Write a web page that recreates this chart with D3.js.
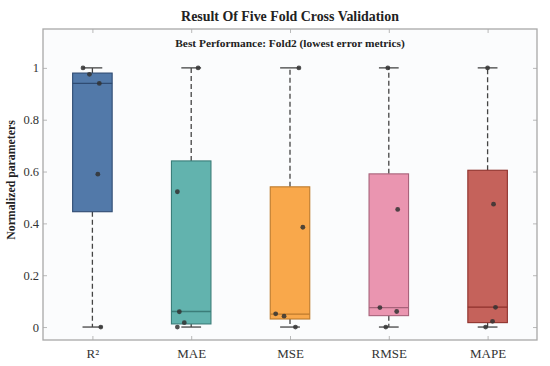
<!DOCTYPE html>
<html>
<head>
<meta charset="utf-8">
<script src="https://cdn.jsdelivr.net/npm/d3@7"></script>
<style>
  body { margin: 0; background: #fff; }
  svg text { font-family: "Book Antiqua", Palatino, "Liberation Serif", "DejaVu Serif", serif; }
</style>
</head>
<body>
<svg id="chart" width="550" height="366"></svg>
<script>
// metrics on the x axis
const metrics = ['R²', 'MAE', 'MSE', 'RMSE', 'MAPE'];
// box statistics
const q1 = [0.445, 0.012, 0.031, 0.044, 0.017];
const median = [0.94, 0.06, 0.05, 0.075, 0.077];
const q3 = [0.98, 0.641, 0.541, 0.591, 0.605];
const whiskLo = [0, 0, 0, 0, 0];
const whiskHi = [1, 1, 1, 1, 1];
// fold values (five per metric) and their horizontal jitter
const foldValues = [
    [1.0, 0.975, 0.94, 0.59, 0.0],
    [1.0, 0.522, 0.059, 0.017, 0.0],
    [1.0, 0.385, 0.051, 0.042, 0.0],
    [1.0, 0.454, 0.075, 0.06, 0.0],
    [1.0, 0.474, 0.076, 0.022, 0.0]
];
const jitter = [
    [-0.095, -0.03, 0.07, 0.055, 0.085],
    [0.07, -0.14, -0.12, -0.07, -0.14],
    [0.09, 0.13, -0.145, -0.06, 0.055],
    [-0.01, 0.09, -0.09, 0.08, -0.03],
    [0.0, 0.06, 0.08, 0.05, -0.02]
];
const yTicks = [0, 0.2, 0.4, 0.6, 0.8, 1];
const fills = ['#5279a9', '#62b3ae', '#f9a84b', '#ea95b0', '#c5625b'];
const edges = ['#2f4b72', '#3b7d79', '#bd7a2c', '#a8627a', '#8e302b'];

const svg = d3.select('#chart');
const margin = { left: 43, right: 13, top: 29, bottom: 26 };
const W = 550, H = 366;

const x = d3.scaleLinear()
    .domain([0.5, 5.5])
    .range([margin.left, W - margin.right]);
const y = d3.scaleLinear()
    .domain([-0.05, 1.15])
    .range([H - margin.bottom, margin.top]);

// plot background
svg.append('rect')
    .attr('x', x(0.5)).attr('y', y(1.15))
    .attr('width', x(5.5) - x(0.5))
    .attr('height', y(-0.05) - y(1.15))
    .attr('fill', '#fbfcfd');

const boxW = 0.4;
const capW = 0.2;

metrics.forEach(function (m, i) {
    const cx = x(i + 1);
    const g = svg.append('g');

    // whiskers (dashed)
    g.append('line')
        .attr('x1', cx).attr('x2', cx)
        .attr('y1', y(q3[i])).attr('y2', y(whiskHi[i]))
        .attr('stroke', '#444').attr('stroke-width', 1.3)
        .attr('stroke-dasharray', '5,3');
    g.append('line')
        .attr('x1', cx).attr('x2', cx)
        .attr('y1', y(q1[i])).attr('y2', y(whiskLo[i]))
        .attr('stroke', '#444').attr('stroke-width', 1.3)
        .attr('stroke-dasharray', '5,3');
    // caps
    [whiskHi[i], whiskLo[i]].forEach(function (v) {
        g.append('line')
            .attr('x1', x(i + 1 - capW / 2)).attr('x2', x(i + 1 + capW / 2))
            .attr('y1', y(v)).attr('y2', y(v))
            .attr('stroke', '#444').attr('stroke-width', 1.3);
    });

    // box
    g.append('rect')
        .attr('x', x(i + 1 - boxW / 2))
        .attr('width', x(i + 1 + boxW / 2) - x(i + 1 - boxW / 2))
        .attr('y', y(q3[i]))
        .attr('height', y(q1[i]) - y(q3[i]))
        .attr('fill', fills[i])
        .attr('stroke', edges[i])
        .attr('stroke-width', 1.1);

    // median
    g.append('line')
        .attr('x1', x(i + 1 - boxW / 2)).attr('x2', x(i + 1 + boxW / 2))
        .attr('y1', y(median[i])).attr('y2', y(median[i]))
        .attr('stroke', edges[i]).attr('stroke-width', 1.3);

    // fold points
    g.selectAll('circle')
        .data(foldValues[i])
        .enter()
        .append('circle')
        .attr('cx', function (d, k) { return x(i + 1 + jitter[i][k]); })
        .attr('cy', function (d) { return y(d); })
        .attr('r', 2.4)
        .attr('fill', '#333')
        .attr('fill-opacity', 0.85);
});

// axes with inward ticks
const axisColor = '#a8a8a8';
const yAxis = d3.axisLeft(y).tickValues(yTicks).tickSize(-4).tickPadding(4)
    .tickFormat(function (d) { return d === 0 || d === 1 ? d3.format('d')(d) : d3.format('.1f')(d); });
const yAxisR = d3.axisRight(y).tickValues(yTicks).tickSize(-4).tickFormat('');
const xAxis = d3.axisBottom(x).tickValues([1, 2, 3, 4, 5]).tickSize(-4).tickPadding(9)
    .tickFormat(function (d) { return metrics[d - 1]; });
const xAxisT = d3.axisTop(x).tickValues([1, 2, 3, 4, 5]).tickSize(-4).tickFormat('');

function styleAxis(sel, size) {
    sel.select('.domain').remove();
    sel.selectAll('.tick line').attr('stroke', axisColor).attr('stroke-width', 0.8);
    sel.selectAll('.tick text').attr('fill', '#333').style('font-size', size + 'px');
}

svg.append('g').attr('transform', 'translate(' + x(0.5) + ',0)').call(yAxis).call(styleAxis, 12.5);
svg.append('g').attr('transform', 'translate(' + x(5.5) + ',0)').call(yAxisR).call(styleAxis, 12);
svg.append('g').attr('transform', 'translate(0,' + y(-0.05) + ')').call(xAxis).call(styleAxis, 13);
svg.append('g').attr('transform', 'translate(0,' + y(1.15) + ')').call(xAxisT).call(styleAxis, 12);

// frame
svg.append('rect')
    .attr('x', x(0.5)).attr('y', y(1.15))
    .attr('width', x(5.5) - x(0.5))
    .attr('height', y(-0.05) - y(1.15))
    .attr('fill', 'none')
    .attr('stroke', axisColor)
    .attr('stroke-width', 1.3);

// titles
svg.append('text')
    .attr('x', (x(0.5) + x(5.5)) / 2).attr('y', 20.5)
    .attr('text-anchor', 'middle')
    .attr('font-weight', 'bold').attr('font-size', 13.9)
    .attr('fill', '#222')
    .text('Result Of Five Fold Cross Validation');

svg.append('text')
    .attr('x', (x(0.5) + x(5.5)) / 2).attr('y', 47)
    .attr('text-anchor', 'middle')
    .attr('font-weight', 'bold').attr('font-size', 11.4)
    .attr('fill', '#222')
    .text('Best Performance: Fold2 (lowest error metrics)');

svg.append('text')
    .attr('transform', 'translate(15,180) rotate(-90)')
    .attr('text-anchor', 'middle')
    .attr('font-weight', 'bold').attr('font-size', 11.8)
    .attr('fill', '#222')
    .text('Normalized parameters');
</script>
</body>
</html>
